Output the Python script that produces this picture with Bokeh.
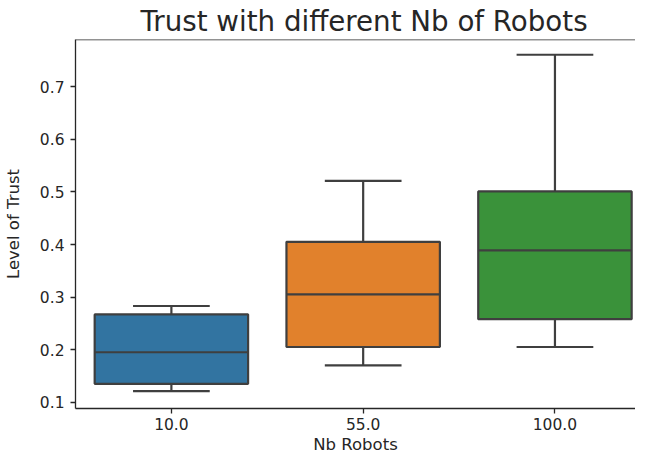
from bokeh.plotting import figure
from bokeh.models import Range1d, FixedTicker, Span
from bokeh.embed import file_html
from bokeh.resources import INLINE

# ---- data ----
categories = ["10.0", "55.0", "100.0"]
positions = [0, 1, 2]
q1 = [0.135, 0.205, 0.258]
median = [0.195, 0.305, 0.389]
q3 = [0.267, 0.405, 0.501]
whisker_low = [0.121, 0.170, 0.205]
whisker_high = [0.283, 0.521, 0.761]
box_colors = ["#3274a1", "#e1812c", "#3a923a"]
y_ticks = [0.1, 0.2, 0.3, 0.4, 0.5, 0.6, 0.7]

BOX_W = 0.8
CAP_W = 0.4
LINE = "#3f3f3f"
LW = 2.2
TXT = "#262626"
FONT = "DejaVu Sans"

p = figure(width=635, height=456, output_backend="svg", toolbar_location=None,
           x_range=Range1d(-0.5, 2.42), y_range=Range1d(0.088, 0.79),
           min_border_left=75, min_border_right=0, min_border_top=38, min_border_bottom=0,
           title="Trust with different Nb of Robots")

p.title.text_font = FONT
p.title.text_font_size = "27.7px"
p.title.text_font_style = "normal"
p.title.text_color = TXT
p.title.align = "left"
p.title.offset = 65
p.title.standoff = 4

p.outline_line_color = None
p.grid.visible = False
p.background_fill_color = "white"
p.border_fill_color = "white"

# top spine
p.add_layout(Span(location=0.79, dimension="width", line_color=TXT, line_width=1.3))

# whiskers
p.segment(x0=positions, x1=positions, y0=q3, y1=whisker_high, line_color=LINE, line_width=LW)
p.segment(x0=positions, x1=positions, y0=whisker_low, y1=q1, line_color=LINE, line_width=LW)
# caps
cap_l = [x - CAP_W / 2 for x in positions]
cap_r = [x + CAP_W / 2 for x in positions]
p.segment(x0=cap_l, x1=cap_r, y0=whisker_high, y1=whisker_high, line_color=LINE, line_width=LW)
p.segment(x0=cap_l, x1=cap_r, y0=whisker_low, y1=whisker_low, line_color=LINE, line_width=LW)
# boxes
p.vbar(x=positions, width=BOX_W, bottom=q1, top=q3, fill_color=box_colors,
       line_color=LINE, line_width=LW)
# medians
box_l = [x - BOX_W / 2 for x in positions]
box_r = [x + BOX_W / 2 for x in positions]
p.segment(x0=box_l, x1=box_r, y0=median, y1=median, line_color=LINE, line_width=LW)

# axes
p.xaxis.ticker = FixedTicker(ticks=positions)
p.xaxis.major_label_overrides = {pos: lab for pos, lab in zip(positions, categories)}
p.yaxis.ticker = FixedTicker(ticks=y_ticks)
p.yaxis.major_label_overrides = {t: f"{t:.1f}" for t in y_ticks}
p.xaxis.axis_label = "Nb Robots"
p.yaxis.axis_label = "Level of Trust"

for ax in (p.xaxis, p.yaxis):
    ax.axis_line_color = TXT
    ax.axis_line_width = 1.3
    ax.major_tick_line_color = TXT
    ax.major_tick_line_width = 1.3
    ax.major_tick_out = 5
    ax.major_tick_in = 0
    ax.minor_tick_line_color = None
    ax.major_label_text_font = FONT
    ax.major_label_text_font_size = "15.5px"
    ax.major_label_text_color = TXT
    ax.axis_label_text_font = FONT
    ax.axis_label_text_font_size = "16.5px"
    ax.axis_label_text_font_style = "normal"
    ax.axis_label_text_color = TXT
p.xaxis.major_label_standoff = 4
p.xaxis.axis_label_standoff = 2
p.yaxis.major_label_standoff = 6
p.yaxis.axis_label_standoff = 14

open("out.html", "w").write(file_html(p, INLINE))
